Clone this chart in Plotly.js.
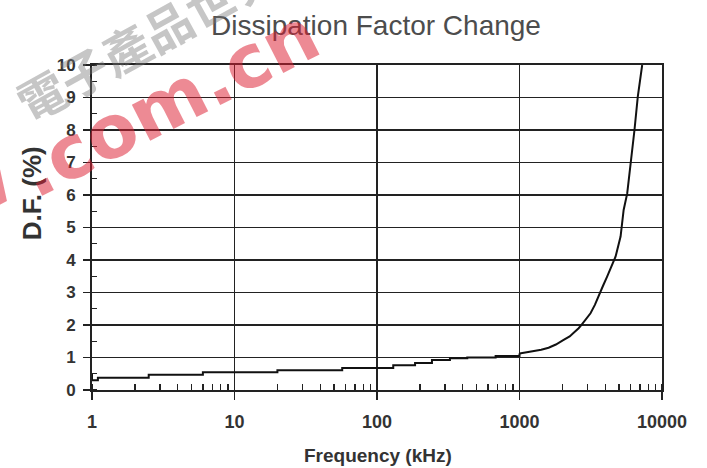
<!DOCTYPE html>
<html>
<head>
<meta charset="utf-8">
<script src="https://cdn.plot.ly/plotly-3.0.1.min.js"></script>
<style>
  html, body { margin: 0; padding: 0; background: #ffffff; }
  #chart { width: 707px; height: 468px; }
</style>
</head>
<body>
<div id="chart"></div>
<script>
// Frequency in kHz (log axis) and dissipation factor in %
// Low-frequency part: stepped curve
var freqLow = [1, 1, 1.1, 2.5, 6, 20, 57, 130, 185, 243, 325, 430, 680, 1000];
var dfLow = [0.5, 0.3, 0.38, 0.47, 0.55, 0.61, 0.68, 0.76, 0.83, 0.92, 0.98, 1.0, 1.05, 1.12];
// High-frequency part: steep rise
var freqHigh = [1000, 1230, 1420, 1600, 1800, 2040, 2250, 2400, 2600, 2750, 2950, 3150, 3380, 3600, 3850, 4120, 4400, 4720, 5120, 5380, 5700, 6080, 6410, 6760, 7000, 7260];
var dfHigh = [1.12, 1.18, 1.24, 1.30, 1.40, 1.54, 1.65, 1.76, 1.9, 2.03, 2.2, 2.36, 2.62, 2.92, 3.2, 3.49, 3.8, 4.1, 4.72, 5.54, 6.05, 7.08, 8.0, 9.02, 9.5, 10.0];

var xTickVals = [1, 10, 100, 1000, 10000];
var xTickText = ['1', '10', '100', '1000', '10000'];
var yTickVals = [0, 1, 2, 3, 4, 5, 6, 7, 8, 9, 10];
var yTickText = ['0', '1', '2', '3', '4', '5', '6', '7', '8', '9', '10'];

var titleText = 'Dissipation Factor Change';
var xTitleText = 'Frequency (kHz)';
var yTitleText = 'D.F. (%)';
var watermarkCn = '電子產品世界';
var watermarkUrl = '.com.cn';
var watermarkW = 'w';

var lineStyle = { color: '#111111', width: 2 };
var traceLow = {
  x: freqLow, y: dfLow, type: 'scatter', mode: 'lines',
  line: Object.assign({ shape: 'hv' }, lineStyle), hoverinfo: 'x+y'
};
var traceHigh = {
  x: freqHigh, y: dfHigh, type: 'scatter', mode: 'lines',
  line: Object.assign({ shape: 'linear' }, lineStyle), hoverinfo: 'x+y'
};

var gridCol = '#222222';
var labelFont = { family: 'Liberation Sans, Arial, sans-serif', size: 18, color: '#333333', weight: 'bold' };

var layout = {
  width: 707,
  height: 468,
  margin: { l: 92, r: 45, t: 65, b: 78 },
  paper_bgcolor: '#ffffff',
  plot_bgcolor: '#ffffff',
  showlegend: false,
  xaxis: {
    type: 'log',
    range: [0, 4],
    tickvals: xTickVals,
    ticktext: xTickText,
    ticks: 'outside',
    ticklen: 8,
    tickwidth: 1.5,
    tickcolor: gridCol,
    ticklabelstandoff: 6,
    tickfont: labelFont,
    showgrid: true,
    gridcolor: gridCol,
    gridwidth: 1.6,
    showline: true,
    linecolor: gridCol,
    linewidth: 2,
    mirror: true,
    zeroline: false,
    minor: { ticks: 'inside', ticklen: 6, tickwidth: 1.3, tickcolor: gridCol, dtick: 'D1', showgrid: false }
  },
  yaxis: {
    range: [0, 10],
    tickvals: yTickVals,
    ticktext: yTickText,
    ticks: 'outside',
    ticklen: 7,
    tickwidth: 1.5,
    tickcolor: gridCol,
    ticklabelstandoff: 4,
    tickfont: { family: 'Liberation Sans, Arial, sans-serif', size: 17, color: '#333333', weight: 'bold' },
    showgrid: true,
    gridcolor: gridCol,
    gridwidth: 1.6,
    showline: true,
    linecolor: gridCol,
    linewidth: 2,
    mirror: true,
    zeroline: false,
    minor: { ticks: 'inside', ticklen: 5, tickwidth: 1.3, tickcolor: gridCol, dtick: 0.5, showgrid: false }
  },
  annotations: [
    {
      text: titleText, xref: 'paper', yref: 'paper', x: 0.499, y: 1.123,
      xanchor: 'center', yanchor: 'middle', showarrow: false,
      font: { family: 'Liberation Sans, Arial, sans-serif', size: 28, color: '#4d4d4d' }
    },
    {
      text: xTitleText, xref: 'paper', yref: 'paper', x: 0.501, y: -0.2,
      xanchor: 'center', yanchor: 'middle', showarrow: false,
      font: { family: 'Liberation Sans, Arial, sans-serif', size: 19, color: '#333333', weight: 'bold' }
    },
    {
      text: yTitleText, xref: 'paper', yref: 'paper', x: -0.105, y: 0.606,
      xanchor: 'center', yanchor: 'middle', showarrow: false, textangle: -90,
      font: { family: 'Liberation Sans, Arial, sans-serif', size: 26, color: '#333333', weight: 'bold' }
    },
    {
      text: watermarkCn, xref: 'paper', yref: 'paper', x: 0.094, y: 1.09,
      xanchor: 'center', yanchor: 'middle', showarrow: false, textangle: -29,
      font: { family: 'Noto Sans CJK TC, Noto Sans CJK SC, sans-serif', size: 48, color: 'rgba(120,120,120,0.42)', weight: 'bold' }
    },
    {
      text: watermarkUrl, xref: 'paper', yref: 'paper', x: 0.135, y: 0.885,
      xanchor: 'center', yanchor: 'middle', showarrow: false, textangle: -27,
      font: { family: 'DejaVu Sans, sans-serif', size: 74, color: 'rgba(220,30,50,0.52)', weight: 'bold' }
    },
    {
      text: watermarkW, xref: 'paper', yref: 'paper', x: -0.2, y: 0.62,
      xanchor: 'center', yanchor: 'middle', showarrow: false, textangle: -27,
      font: { family: 'DejaVu Sans, sans-serif', size: 70, color: 'rgba(220,30,50,0.52)', weight: 'bold' }
    }
  ]
};

Plotly.newPlot('chart', [traceLow, traceHigh], layout, { displayModeBar: false, staticPlot: true });
</script>
</body>
</html>
